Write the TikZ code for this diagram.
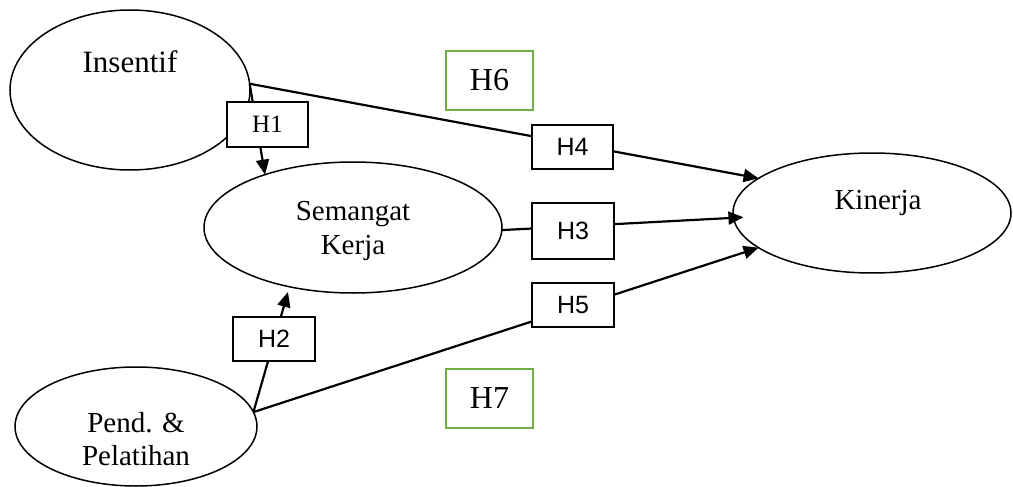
\documentclass[tikz,border=0pt]{standalone}
\usepackage{fontspec}
\setmainfont{Liberation Serif}
\setsansfont{Liberation Sans}
\usetikzlibrary{shapes.geometric,arrows.meta}
\definecolor{hgreen}{RGB}{112,173,71}
\tikzset{
  var/.style={ellipse, draw, line width=1.5pt, inner sep=0pt, outer sep=0pt},
  vartext/.style={font=\fontsize{29}{34}\selectfont, align=center, inner sep=0pt, anchor=base},
  conn/.style={line width=2.2pt},
  arr/.style={conn, -{Triangle[length=15pt,width=13pt]}},
  hbox/.style={draw, line width=1.6pt, fill=white, inner sep=0pt, font=\sffamily\fontsize{25}{30}\selectfont},
  gbox/.style={draw=hgreen, line width=2.2pt, fill=white, inner sep=0pt, minimum width=87pt, minimum height=59pt, font=\fontsize{32}{38}\selectfont}
}
\begin{document}
\begin{tikzpicture}[x=1pt,y=-1pt]
\useasboundingbox (0,0) rectangle (1013,487);
% ellipses
\node[var, minimum width=240pt, minimum height=160pt] (ins) at (130,90) {};
\node[var, minimum width=298pt, minimum height=131pt] (sem) at (353,227.5) {};
\node[var, minimum width=278pt, minimum height=120pt] (kin) at (872,213) {};
\node[var, minimum width=242pt, minimum height=119pt] (pen) at (136,426.5) {};
% texts
\node[vartext, font=\fontsize{31}{36}\selectfont] (tins) at (130,73) {Insentif};
\node[vartext] (tsem) at (353,254) {Semangat\\Kerja};
\node[vartext] (tkin) at (878,209) {Kinerja};
\node[vartext, font=\fontsize{29}{33}\selectfont] (tpen) at (136,465) {Pend. \&\\Pelatihan};
% connectors
\coordinate (h2tip) at (288,292);
\draw[arr] (ins.3) -- (kin.163);
\draw[arr] (ins.3) -- (sem.149);
\draw[arr, shorten >=-10pt] (sem.-1) -- (kin.182);
\draw[arr] (pen.7) -- (kin.197);
\draw[arr] (pen.7) -- (h2tip);
% boxes
\node[hbox, minimum width=81pt, minimum height=45pt, font=\fontsize{25}{30}\selectfont] (h1) at (267.5,124.5) {H1};
\node[hbox, minimum width=82pt, minimum height=44pt] (h2) at (274,339) {H2};
\node[hbox, minimum width=82pt, minimum height=56pt] (h3) at (573,231) {H3};
\node[hbox, minimum width=81pt, minimum height=44pt] (h4) at (572.5,147) {H4};
\node[hbox, minimum width=82pt, minimum height=44pt] (h5) at (573,305) {H5};
\node[gbox] (h6) at (489.5,80.5) {H6};
\node[gbox] (h7) at (489.5,398.5) {H7};
\end{tikzpicture}
\end{document}
